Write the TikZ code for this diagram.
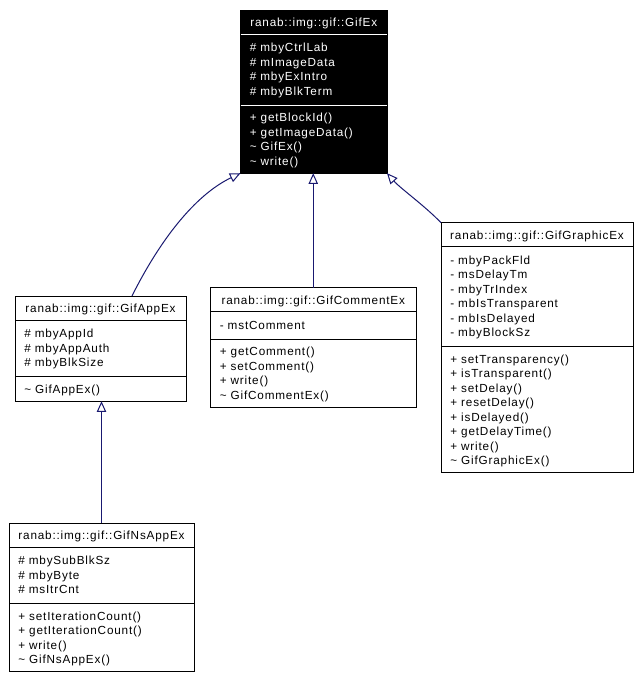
\documentclass[tikz,border=0pt]{standalone}
\usepackage{fontspec}
\setmainfont{Liberation Sans}[LetterSpace=7.0]
\usetikzlibrary{arrows.meta,fit}
\definecolor{navyline}{RGB}{25,25,112}
\newcommand\umlclass[9]{%
  \pgfmathsetmacro\sepA{#4+24}%
  \pgfmathsetmacro\sepB{#4+51.7+14.5*(#5-1)}%
  \pgfmathsetmacro\cB{\sepB+24.5+14.5*(#6-1)}%
  \node[clsbox, fit={(#2,#4) (#3,\cB)}] (#1) {};
  \draw[clssep] (#2,\sepA) -- (#3,\sepA);
  \draw[clssep] (#2,\sepB) -- (#3,\sepB);
  \node[clstitle, anchor=base] (#1-title) at ({(#2+#3)/2}, #4+16.5) {#7};
  \foreach \t [count=\i] in {#8} {\node[clsmem, anchor=base west] (#1-a\i) at (#2+9, {#4+41.7+14.5*(\i-1)}) {\t};}
  \foreach \t [count=\i] in {#9} {\node[clsmem, anchor=base west] (#1-m\i) at (#2+9, {\sepB+16.5+14.5*(\i-1)}) {\t};}
}
\begin{document}
\begin{tikzpicture}[x=0.75pt, y=-0.75pt,
  clsbox/.style={draw=black, line width=0.75pt, inner sep=0pt, outer sep=0pt, rectangle},
  clssep/.style={draw=black, line width=0.75pt},
  clstitle/.style={inner sep=0pt, font=\fontsize{8.8pt}{10.9pt}\selectfont},
  clsmem/.style={inner sep=0pt, font=\fontsize{8.8pt}{10.9pt}\selectfont},
  inh/.style={draw=navyline, line width=0.75pt, -{Triangle[open, length=8pt, width=7pt]}}]
\useasboundingbox (0,0) rectangle (639,679);
\fill[white] (0,0) rectangle (639,679);

\begin{scope}[clsbox/.append style={fill=black},
  clssep/.append style={draw=white},
  clstitle/.append style={text=white},
  clsmem/.append style={text=white}]
\umlclass{gifex}{240.5}{387}{10}{4}{4}{ranab::img::gif::GifEx}%
  {\# mbyCtrlLab, \# mImageData, \# mbyExIntro, \# mbyBlkTerm}%
  {+ getBlockId(), + getImageData(), \textasciitilde{} GifEx(), \textasciitilde{} write()}
\end{scope}

\umlclass{gifapp}{15}{186}{296}{3}{1}{ranab::img::gif::GifAppEx}%
  {\# mbyAppId, \# mbyAppAuth, \# mbyBlkSize}%
  {\textasciitilde{} GifAppEx()}

\umlclass{gifcomment}{210.5}{416}{287.5}{1}{4}{ranab::img::gif::GifCommentEx}%
  {- mstComment}%
  {+ getComment(), + setComment(), + write(), \textasciitilde{} GifCommentEx()}

\umlclass{gifgraphic}{441}{633}{222.7}{6}{8}{ranab::img::gif::GifGraphicEx}%
  {- mbyPackFld, - msDelayTm, - mbyTrIndex, - mbIsTransparent, - mbIsDelayed, - mbyBlockSz}%
  {+ setTransparency(), + isTransparent(), + setDelay(), + resetDelay(), + isDelayed(), + getDelayTime(), + write(), \textasciitilde{} GifGraphicEx()}

\umlclass{gifns}{9}{194}{523}{3}{4}{ranab::img::gif::GifNsAppEx}%
  {\# mbySubBlkSz, \# mbyByte, \# msItrCnt}%
  {+ setIterationCount(), + getIterationCount(), + write(), \textasciitilde{} GifNsAppEx()}

\draw[inh] ([xshift=23.6pt]gifapp.north) .. controls (160,240) and (195,195) .. (gifex.south west);
\draw[inh] (gifcomment.north) -- (gifcomment.north |- gifex.south);
\draw[inh] (gifgraphic.north west) .. controls (425,206) and (400,188) .. (gifex.south east);
\draw[inh] (gifns.north) -- (gifns.north |- gifapp.south);
\end{tikzpicture}
\end{document}
